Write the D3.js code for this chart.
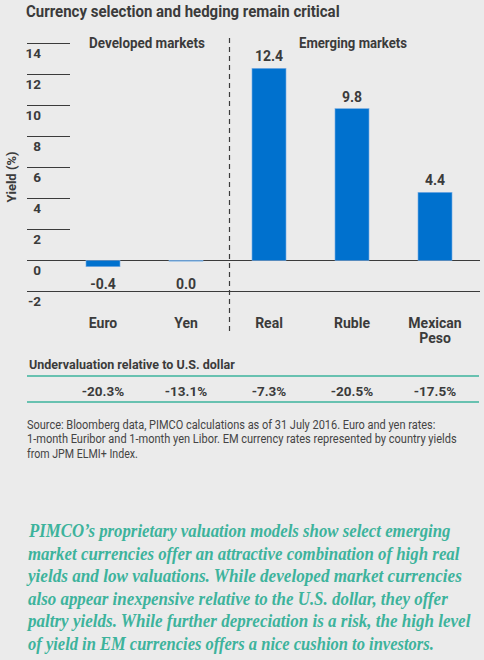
<!DOCTYPE html>
<html>
<head>
<meta charset="utf-8">
<script src="https://cdn.jsdelivr.net/npm/d3@7"></script>
<style>
  body { margin: 0; background: #ebebeb; }
  svg { display: block; }
  .sans { font-family: Roboto, "Liberation Sans", "DejaVu Sans", sans-serif; }
</style>
</head>
<body>
<div id="chart-area"></div>
<script>
// chart data
var currencies = ["Euro", "Yen", "Real", "Ruble", "Mexican Peso"];
var yields = [-0.4, -0.04, 12.4, 9.8, 4.4];
var undervaluation = ["-20.3%", "-13.1%", "-7.3%", "-20.5%", "-17.5%"];
var yTicks = [-2, 0, 2, 4, 6, 8, 10, 12, 14];
var groups = ["Developed markets", "Emerging markets"];

var sourceLines = [
    "Source: Bloomberg data, PIMCO calculations as of 31 July 2016. Euro and yen rates:",
    "1-month Euribor and 1-month yen Libor. EM currency rates represented by country yields",
    "from JPM ELMI+ Index."
];
var quoteLines = [
    "PIMCO\u2019s proprietary valuation models show select emerging",
    "market currencies offer an attractive combination of high real",
    "yields and low valuations. While developed market currencies",
    "also appear inexpensive relative to the U.S. dollar, they offer",
    "paltry yields. While further depreciation is a risk, the high level",
    "of yield in EM currencies offers a nice cushion to investors."
];

var sourceWidths = [409, 430, 111];
var quoteWidths = [422, 432, 434, 420, 443, 406];

var width = 484;
var height = 660;
var dark = "#3b3b3b";
var teal = "#3db39c";
var blue = "#0071ce";

var fmt = d3.formatLocale({decimal: ".", thousands: ",", grouping: [3], currency: ["", ""], minus: "-"}).format(".1f");

// squeeze a text horizontally so it spans the given width
function fitWidth(sel, widthFn) {
    sel.each(function(d, i) {
        var w = this.getComputedTextLength();
        var target = typeof widthFn === "function" ? widthFn(d, i) : widthFn;
        var tx = +this.getAttribute("x");
        var ty = +this.getAttribute("y");
        d3.select(this)
            .attr("x", 0)
            .attr("y", 0)
            .attr("transform", "translate(" + tx + "," + ty + ") scale(" + (target / w) + ",1)");
    });
}

var svg = d3.select("#chart-area")
    .append("svg")
    .attr("width", width)
    .attr("height", height);

svg.append("rect")
    .attr("width", width)
    .attr("height", height)
    .attr("fill", "#ebebeb");

// title
svg.append("text")
    .attr("class", "sans")
    .attr("x", 26)
    .attr("y", 17)
    .attr("font-size", "16px")
    .attr("font-weight", "bold")
    .attr("fill", dark)
    .text("Currency selection and hedging remain critical")
    .call(fitWidth, 314);

// scales
var y = d3.scaleLinear()
    .domain([-2, 14])
    .range([291.5, 43.5]);

var x = d3.scaleBand()
    .domain(currencies)
    .range([61.5, 476.5])
    .paddingInner(0.59)
    .paddingOuter(0.295);

var cx = function(d) { return x(d) + x.bandwidth() / 2; };

// y gridlines and labels (labels sit under each line)
var tick = svg.append("g").selectAll("g")
    .data(yTicks)
    .enter()
    .append("g");

tick.append("line")
    .attr("x1", 27)
    .attr("x2", function(d) { return d <= 0 ? 480 : 70; })
    .attr("y1", function(d) { return y(d); })
    .attr("y2", function(d) { return y(d); })
    .attr("stroke", dark)
    .attr("stroke-width", 1.2);

tick.append("text")
    .attr("class", "sans")
    .attr("x", 41)
    .attr("y", function(d) { return y(d) + 14; })
    .attr("text-anchor", "end")
    .attr("font-size", "13.5px")
    .attr("font-weight", "bold")
    .attr("fill", dark)
    .text(function(d) { return d; });

svg.append("text")
    .attr("class", "sans")
    .attr("transform", "translate(16,177) rotate(-90)")
    .attr("text-anchor", "middle")
    .attr("font-size", "13px")
    .attr("font-weight", "bold")
    .attr("fill", dark)
    .text("Yield (%)");

// divider between developed and emerging
svg.append("line")
    .attr("x1", 229.5)
    .attr("x2", 229.5)
    .attr("y1", 38)
    .attr("y2", 331)
    .attr("stroke", dark)
    .attr("stroke-width", 1.2)
    .attr("stroke-dasharray", "5,4");

svg.selectAll(".group-label")
    .data(groups)
    .enter()
    .append("text")
    .attr("class", "sans group-label")
    .attr("x", function(d, i) { return i === 0 ? 147 : 353; })
    .attr("y", 48)
    .attr("text-anchor", "middle")
    .attr("font-size", "14px")
    .attr("font-weight", "bold")
    .attr("fill", dark)
    .text(function(d) { return d; })
    .call(fitWidth, function(d, i) { return i === 0 ? 116 : 108; });

// bars
svg.selectAll(".bar")
    .data(yields)
    .enter()
    .append("rect")
    .attr("class", "bar")
    .attr("x", function(d, i) { return x(currencies[i]); })
    .attr("y", function(d) { return y(Math.max(d, 0)); })
    .attr("width", x.bandwidth())
    .attr("height", function(d) { return Math.abs(y(d) - y(0)); })
    .attr("fill", blue)
    .attr("stroke", "#7fb0e4")
    .attr("stroke-width", 0.6);

svg.selectAll(".val")
    .data(yields)
    .enter()
    .append("text")
    .attr("class", "sans val")
    .attr("x", function(d, i) { return cx(currencies[i]); })
    .attr("y", function(d) { return d > 0 ? y(d) - 7 : y(0) + 28; })
    .attr("text-anchor", "middle")
    .attr("font-size", "14px")
    .attr("font-weight", "bold")
    .attr("fill", dark)
    .text(function(d) { return fmt(d); });

// category labels
var cat = svg.selectAll(".cat")
    .data(currencies)
    .enter()
    .append("text")
    .attr("class", "sans cat")
    .attr("text-anchor", "middle")
    .attr("font-size", "14px")
    .attr("font-weight", "bold")
    .attr("fill", dark);

cat.selectAll("tspan")
    .data(function(d) {
        var parts = d.split(" ");
        return parts.map(function(p) { return {word: p, x: cx(d)}; });
    })
    .enter()
    .append("tspan")
    .attr("x", function(d) { return d.x; })
    .attr("y", function(d, i) { return 327.5 + i * 15.5; })
    .text(function(d) { return d.word; });

// undervaluation table
svg.append("text")
    .attr("class", "sans")
    .attr("x", 29)
    .attr("y", 369)
    .attr("font-size", "13.5px")
    .attr("font-weight", "bold")
    .attr("fill", dark)
    .text("Undervaluation relative to U.S. dollar")
    .call(fitWidth, 206);

svg.selectAll(".rule")
    .data([376, 402])
    .enter()
    .append("line")
    .attr("x1", 27)
    .attr("x2", 479)
    .attr("y1", function(d) { return d; })
    .attr("y2", function(d) { return d; })
    .attr("stroke", teal)
    .attr("stroke-width", 1.3);

svg.selectAll(".under")
    .data(undervaluation)
    .enter()
    .append("text")
    .attr("class", "sans under")
    .attr("x", function(d, i) { return cx(currencies[i]); })
    .attr("y", 396)
    .attr("text-anchor", "middle")
    .attr("font-size", "13.5px")
    .attr("font-weight", "bold")
    .attr("fill", dark)
    .text(function(d) { return d; });

// source note
svg.selectAll(".src")
    .data(sourceLines)
    .enter()
    .append("text")
    .attr("class", "sans src")
    .attr("x", 27)
    .attr("y", function(d, i) { return 428.5 + i * 14.5; })
    .attr("font-size", "13px")
    .attr("fill", "#444")
    .text(function(d) { return d; })
    .call(fitWidth, function(d, i) { return sourceWidths[i]; });

// quote
svg.selectAll(".quote")
    .data(quoteLines)
    .enter()
    .append("text")
    .attr("class", "quote")
    .attr("x", function(d, i) { return i === 0 ? 29 : 28; })
    .attr("y", function(d, i) { return 537 + i * 22.6; })
    .attr("font-family", "'Liberation Serif', 'DejaVu Serif', serif")
    .attr("font-style", "italic")
    .attr("font-weight", "bold")
    .attr("font-size", "18.5px")
    .attr("fill", teal)
    .text(function(d) { return d; })
    .call(fitWidth, function(d, i) { return quoteWidths[i]; });
</script>
</body>
</html>
